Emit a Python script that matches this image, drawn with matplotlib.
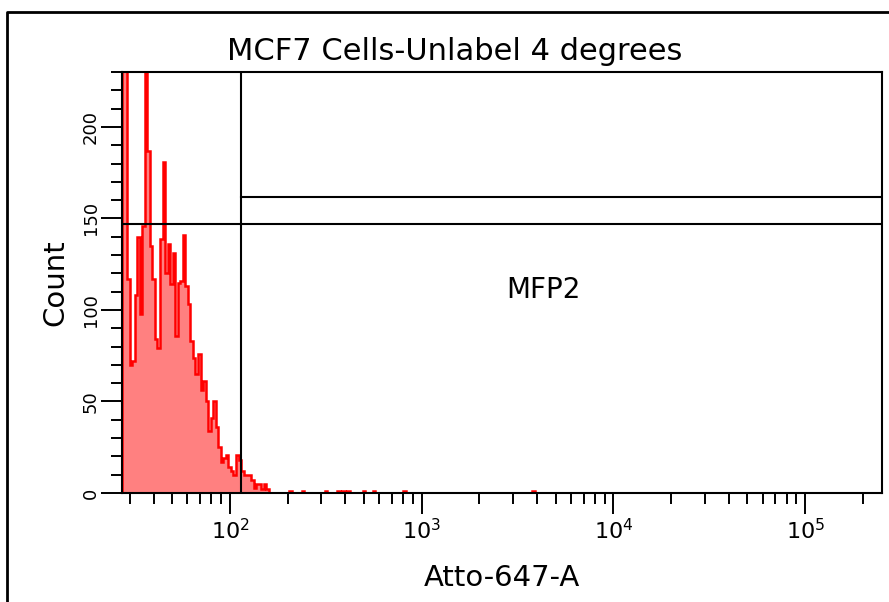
import numpy as np
import matplotlib.pyplot as plt
from matplotlib.lines import Line2D
from matplotlib.ticker import LogLocator, NullFormatter, MultipleLocator

# counts in the first channels (from the axis left edge on)
bin_counts = [250, 240, 117, 70, 72, 108, 140, 98, 146, 245,
              187, 135, 117, 84, 79, 139, 181, 120, 136, 114,
              131, 86, 115, 116, 141, 113, 103, 83, 74, 65,
              76, 56, 61, 50, 34, 41, 50, 36, 25, 17,
              19, 21, 14, 12, 10, 21, 18, 12, 10, 10,
              10, 7, 3, 5, 5, 2, 5, 2, 0]
# isolated single events further right (channel index)
tail_channels = [66, 71, 80, 85, 87, 89, 95, 99, 111, 162]

n_channels = 300
log_lo, log_hi = 1.4366, 5.401

gate_x = 114
gate_y_low = 146.7
gate_y_high = 161.5

counts = np.zeros(n_channels)
counts[:len(bin_counts)] = bin_counts
counts[tail_channels] = 1
edges = np.logspace(log_lo, log_hi, n_channels + 1)

fig = plt.figure(figsize=(8.89, 6.02), dpi=100)
ax = fig.add_axes([122 / 889, 1 - 493 / 602, 760 / 889, 421 / 602])

ax.stairs(counts, edges, fill=True, color='#ff8080', lw=0)
ax.stairs(counts, edges, color='red', lw=1.8)

ax.set_xscale('log')
ax.set_xlim(10 ** log_lo, 10 ** log_hi)
ax.set_ylim(0, 230)

# gates
ax.axvline(gate_x, color='black', lw=1.5)
ax.axhline(gate_y_low, color='black', lw=1.5)
ax.plot([gate_x, 10 ** log_hi], [gate_y_high, gate_y_high], color='black', lw=1.5)
ax.text(4300, 111, 'MFP2', fontsize=20, ha='center', va='center')

ax.xaxis.set_major_locator(LogLocator(base=10, numticks=10))
ax.xaxis.set_minor_locator(LogLocator(base=10, subs=np.arange(2, 10), numticks=20))
ax.xaxis.set_minor_formatter(NullFormatter())
ax.yaxis.set_major_locator(MultipleLocator(50))
ax.yaxis.set_minor_locator(MultipleLocator(10))

ax.tick_params(which='major', direction='out', length=15, width=1.4)
ax.tick_params(which='minor', direction='out', length=8, width=1.4)
ax.tick_params(axis='y', labelrotation=90, pad=1, labelsize=13)
ax.tick_params(axis='x', pad=3, labelsize=16)
for lbl in ax.get_yticklabels():
    lbl.set_va('center')
for s in ax.spines.values():
    s.set_linewidth(1.5)

fig.text(455 / 889, 1 - 52 / 602, 'MCF7 Cells-Unlabel 4 degrees', fontsize=22,
         ha='center', va='center')
ax.set_xlabel('Atto-647-A', fontsize=21)
ax.xaxis.set_label_coords(0.5, -0.202)
ax.xaxis.label.set_va('center')
ax.set_ylabel('Count', fontsize=21)
ax.yaxis.set_label_coords(-0.088, 0.5)
ax.yaxis.label.set_va('center')

# outer frame (left and top edges visible)
fig.add_artist(Line2D([7 / 889, 7 / 889, 1.01], [-0.01, 1 - 12 / 602, 1 - 12 / 602],
                      transform=fig.transFigure, color='black', lw=2))

fig.savefig('out.png', dpi=100)
